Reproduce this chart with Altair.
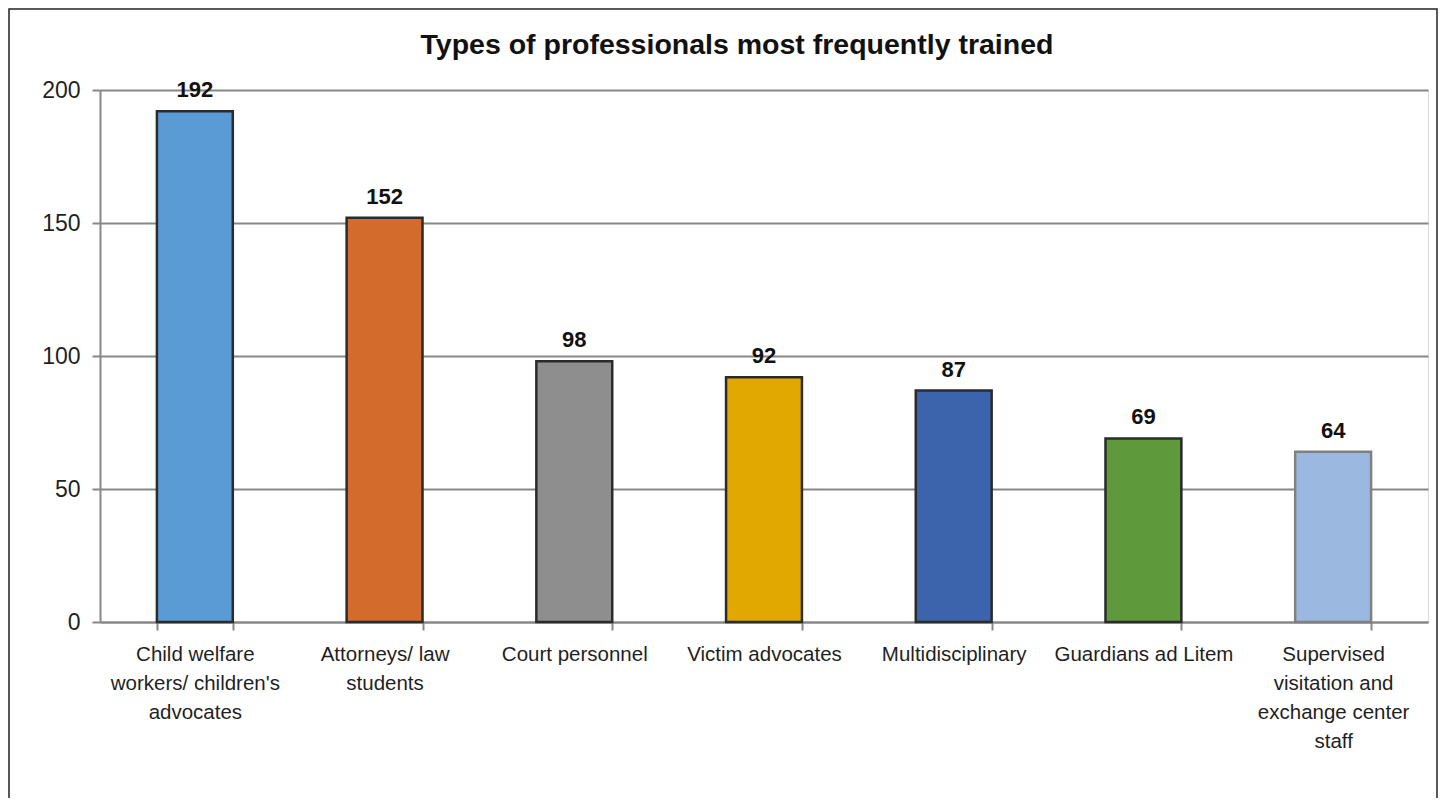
import altair as alt
import pandas as pd

title_text = "Types of professionals most frequently trained"
categories = [
    "Child welfare|workers/ children's|advocates",
    "Attorneys/ law|students",
    "Court personnel",
    "Victim advocates",
    "Multidisciplinary",
    "Guardians ad Litem",
    "Supervised|visitation and|exchange center|staff",
]
values = [192, 152, 98, 92, 87, 69, 64]
fill_colors = ["#5B9BD5", "#D26B2B", "#8E8E8E", "#E0A800", "#3B64AD", "#5E9A3C", "#9BB9E0"]
stroke_colors = ["#2B2B2B", "#2B2B2B", "#2B2B2B", "#2B2B2B", "#2B2B2B", "#2B2B2B", "#808080"]
y_ticks = [0, 50, 100, 150, 200]

df = pd.DataFrame({"category": categories, "value": values})

FONT = "Liberation Sans"
GRID = "#878787"

x_enc = alt.X(
    "category:N",
    sort=categories,
    title=None,
    scale=alt.Scale(paddingInner=0.6, paddingOuter=0.3),
    axis=alt.Axis(
        labelAngle=0,
        labelExpr="split(datum.label, '|')",
        labelFontSize=20.5,
        labelLineHeight=29,
        labelFont=FONT,
        labelColor="#1F1F1F",
        labelPadding=14,
        labelLimit=0,
        labelBaseline="top",
        tickBand="extent",
        tickColor=GRID,
        tickSize=8,
        tickWidth=2,
        domainColor=GRID,
        domainWidth=2,
        grid=False,
    ),
)
y_enc = alt.Y(
    "value:Q",
    title=None,
    scale=alt.Scale(domain=[0, 200], nice=False),
    axis=alt.Axis(
        values=y_ticks,
        labelFontSize=23,
        labelFont=FONT,
        labelColor="#1F1F1F",
        labelPadding=12,
        tickColor=GRID,
        tickSize=8,
        tickWidth=2,
        domainColor=GRID,
        domainWidth=2,
        gridColor=GRID,
        gridWidth=2,
        gridOpacity=1,
    ),
)

bars = alt.Chart(df).mark_bar(strokeWidth=2.5).encode(
    x=x_enc,
    y=y_enc,
    fill=alt.Fill("category:N", sort=categories,
                  scale=alt.Scale(domain=categories, range=fill_colors), legend=None),
    stroke=alt.Stroke("category:N", sort=categories,
                      scale=alt.Scale(domain=categories, range=stroke_colors), legend=None),
)

labels = alt.Chart(df).mark_text(
    baseline="bottom", dy=-9, fontSize=22, fontWeight="bold", font=FONT, color="#111111"
).encode(
    x=alt.X("category:N", sort=categories),
    y="value:Q",
    text="value:Q",
)

meta = pd.DataFrame({"title": [title_text]})

title = alt.Chart(meta).mark_text(
    fontSize=28.5, fontWeight="bold", font=FONT, color="#111111",
    align="center", baseline="middle"
).encode(
    x=alt.value(637), y=alt.value(-45), text="title:N"
)

frame = alt.Chart(meta).mark_rect(
    fill=None, stroke="#222222", strokeWidth=1.5
).encode(
    x=alt.value(-91), x2=alt.value(1337), y=alt.value(-81), y2=alt.value(760)
)

chart = alt.layer(bars, labels, title, frame).properties(
    width=1328,
    height=532,
    padding={"left": 92, "top": 82, "right": 11, "bottom": 176},
    autosize=alt.AutoSizeParams(type="none"),
).configure_view(
    fill="#FFFFCC", stroke=GRID, strokeWidth=2
).configure(background="white")

chart.save("out.html", embed_options={"renderer": "svg", "actions": False})
